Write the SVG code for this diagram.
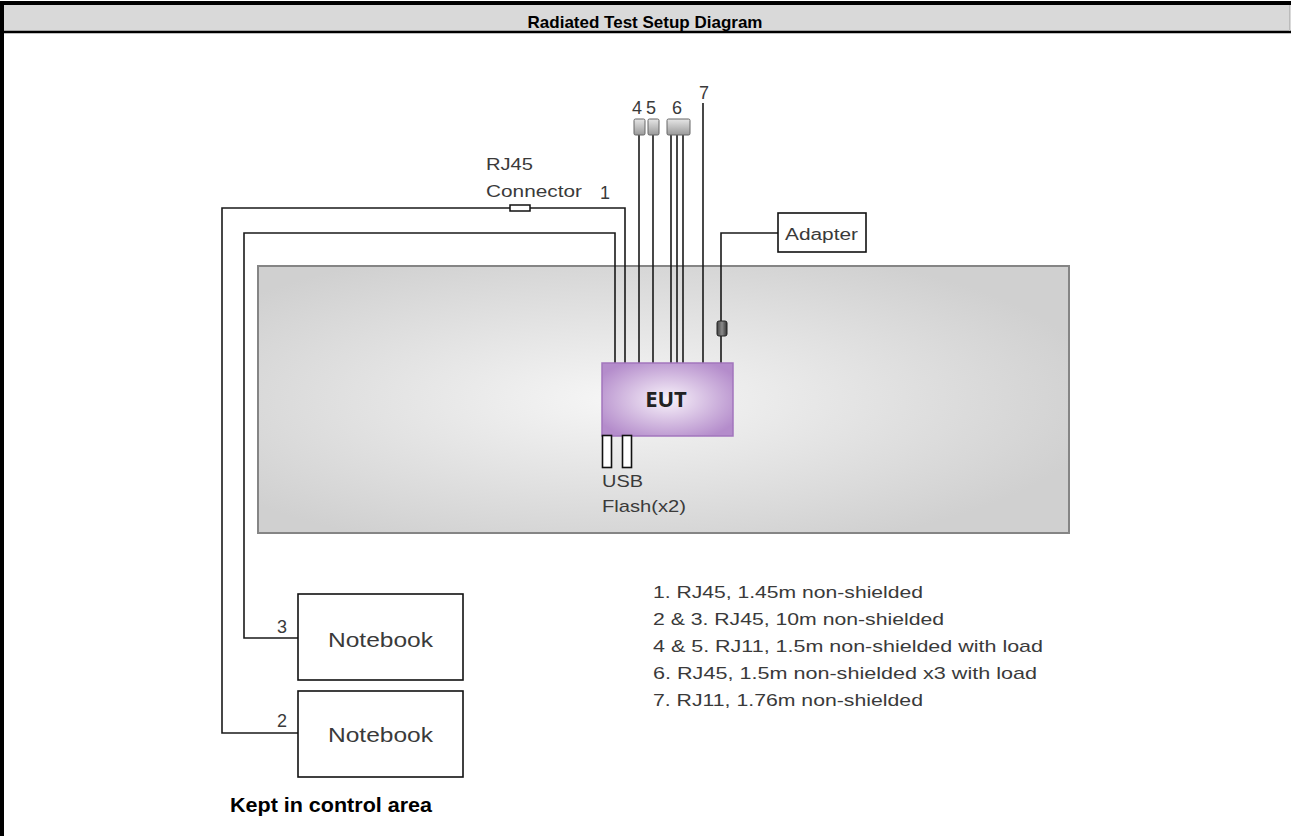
<svg xmlns="http://www.w3.org/2000/svg" width="1291" height="836" viewBox="0 0 1291 836">
<style>
  .frame { fill: none; stroke: #000; stroke-width: 4; }
  .cable { fill: none; stroke: #1a1a1a; stroke-width: 1.6; }
  .box { fill: #fff; stroke: #111; stroke-width: 1.6; }
  .lbl { font-family: "Liberation Sans", Arial, sans-serif; fill: #3a3a3a; }
  .title { font-family: "Liberation Sans", Arial, sans-serif; font-weight: bold; fill: #000; }
  .plug { fill: url(#plugGrad); stroke: #666; stroke-width: 1; }
</style>
<defs>
  <radialGradient id="tableGrad" cx="0.45" cy="0.5" r="0.6">
    <stop offset="0" stop-color="#f6f6f6"/>
    <stop offset="1" stop-color="#d0d0d0"/>
  </radialGradient>
  <radialGradient id="eutGrad" cx="0.5" cy="0.5" r="0.6">
    <stop offset="0" stop-color="#f8f2fa"/>
    <stop offset="1" stop-color="#b48ccb"/>
  </radialGradient>
  <linearGradient id="plugGrad" x1="0" y1="0" x2="0" y2="1">
    <stop offset="0" stop-color="#e6e6e6"/>
    <stop offset="1" stop-color="#9a9a9a"/>
  </linearGradient>
  <linearGradient id="ferriteGrad" x1="0" y1="0" x2="1" y2="0">
    <stop offset="0" stop-color="#444"/>
    <stop offset="0.5" stop-color="#8a8a8a"/>
    <stop offset="1" stop-color="#333"/>
  </linearGradient>
</defs>

<rect x="0" y="0" width="1291" height="836" fill="#fff"/>

<g id="header">
  <rect x="3" y="4" width="1288" height="28" fill="#d9d9d9"/>
  <line x1="0" y1="3" x2="1291" y2="3" stroke="#000" stroke-width="4"/>
  <line x1="2" y1="1" x2="2" y2="836" stroke="#000" stroke-width="4"/>
  <line x1="2" y1="32" x2="1291" y2="32" stroke="#000" stroke-width="2.5"/>
  <line x1="1289.5" y1="5" x2="1289.5" y2="31" stroke="#bbb" stroke-width="1"/>
  <text class="title" x="645" y="28" font-size="17" text-anchor="middle">Radiated Test Setup Diagram</text>
</g>

<g id="table">
  <rect x="258" y="266" width="811" height="267" fill="url(#tableGrad)" stroke="#858585" stroke-width="2"/>
</g>

<g id="connectors">
  <!-- cable 2 -->
  <polyline class="cable" points="298,733 222,733 222,208 625,208 625,363"/>
  <!-- cable 3 -->
  <polyline class="cable" points="298,638 244,638 244,233 615,233 615,363"/>
  <!-- cables 4,5 -->
  <line class="cable" x1="639" y1="135" x2="639" y2="363"/>
  <line class="cable" x1="653" y1="135" x2="653" y2="363"/>
  <!-- cable 6 x3 -->
  <line class="cable" x1="671" y1="135" x2="671" y2="363"/>
  <line class="cable" x1="677" y1="135" x2="677" y2="363"/>
  <line class="cable" x1="683" y1="135" x2="683" y2="363"/>
  <!-- cable 7 -->
  <line class="cable" x1="703" y1="103" x2="703" y2="363"/>
  <!-- adapter cable -->
  <polyline class="cable" points="778,233 721,233 721,363"/>
</g>

<g id="rj45-connector">
  <rect x="510" y="205" width="20" height="6" fill="#fff" stroke="#111" stroke-width="1.5"/>
  <text class="lbl" x="486" y="170" font-size="17" textLength="47" lengthAdjust="spacingAndGlyphs">RJ45</text>
  <text class="lbl" x="486" y="197" font-size="17" textLength="96" lengthAdjust="spacingAndGlyphs">Connector</text>
  <text class="lbl" x="600" y="199" font-size="18">1</text>
</g>

<g id="plugs">
  <rect class="plug" x="634" y="119" width="11" height="16" rx="1.5"/>
  <rect class="plug" x="648" y="119" width="11" height="16" rx="1.5"/>
  <rect class="plug" x="667" y="119" width="23" height="16" rx="1.5"/>
  <text class="lbl" x="632" y="114" font-size="18">4</text>
  <text class="lbl" x="646" y="114" font-size="18">5</text>
  <text class="lbl" x="672" y="114" font-size="18">6</text>
  <text class="lbl" x="699" y="99" font-size="18">7</text>
</g>

<g id="adapter">
  <rect class="box" x="778" y="213" width="88" height="39"/>
  <text class="lbl" x="785" y="240" font-size="16" textLength="73" lengthAdjust="spacingAndGlyphs">Adapter</text>
  <rect x="717" y="321" width="10" height="15" rx="2" fill="url(#ferriteGrad)" stroke="#222" stroke-width="1"/>
</g>

<g id="eut">
  <rect x="602" y="363" width="131" height="73" fill="url(#eutGrad)" stroke="#a276bd" stroke-width="1.5"/>
  <text x="666" y="407" font-family="'Open Sans', 'Liberation Sans', sans-serif" font-weight="bold" font-size="22" fill="#222" text-anchor="middle">EUT</text>
</g>

<g id="usb">
  <rect class="box" x="602.5" y="435.5" width="9" height="32"/>
  <rect class="box" x="622.5" y="435.5" width="9" height="32"/>
  <text class="lbl" x="602" y="487" font-size="17" textLength="41" lengthAdjust="spacingAndGlyphs">USB</text>
  <text class="lbl" x="602" y="512" font-size="17" textLength="84" lengthAdjust="spacingAndGlyphs">Flash(x2)</text>
</g>

<g id="notebook3">
  <rect class="box" x="298" y="594" width="165" height="86"/>
  <text class="lbl" x="328" y="647" font-size="20" textLength="105" lengthAdjust="spacingAndGlyphs">Notebook</text>
  <text class="lbl" x="277" y="633" font-size="18">3</text>
</g>

<g id="notebook2">
  <rect class="box" x="298" y="691" width="165" height="86"/>
  <text class="lbl" x="328" y="742" font-size="20" textLength="105" lengthAdjust="spacingAndGlyphs">Notebook</text>
  <text class="lbl" x="277" y="727" font-size="18">2</text>
</g>

<g id="control-label">
  <text class="title" x="230" y="812" font-size="21" fill="#111" textLength="202" lengthAdjust="spacingAndGlyphs">Kept in control area</text>
</g>

<g id="legend">
  <text class="lbl" x="653" y="598" font-size="17" textLength="270" lengthAdjust="spacingAndGlyphs">1. RJ45, 1.45m non-shielded</text>
  <text class="lbl" x="653" y="625" font-size="17" textLength="291" lengthAdjust="spacingAndGlyphs">2 &amp; 3. RJ45, 10m non-shielded</text>
  <text class="lbl" x="653" y="652" font-size="17" textLength="390" lengthAdjust="spacingAndGlyphs">4 &amp; 5. RJ11, 1.5m non-shielded with load</text>
  <text class="lbl" x="653" y="679" font-size="17" textLength="384" lengthAdjust="spacingAndGlyphs">6. RJ45, 1.5m non-shielded x3 with load</text>
  <text class="lbl" x="653" y="706" font-size="17" textLength="270" lengthAdjust="spacingAndGlyphs">7. RJ11, 1.76m non-shielded</text>
</g>
</svg>
